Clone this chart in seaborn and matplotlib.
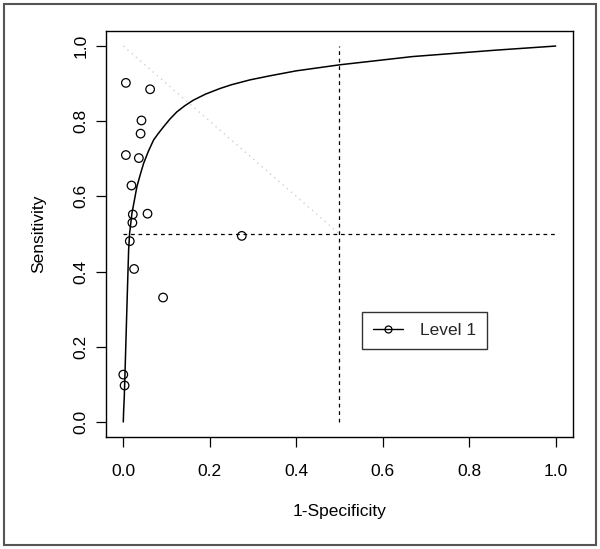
import matplotlib
matplotlib.use("Agg")
import matplotlib.pyplot as plt
from matplotlib.lines import Line2D
from matplotlib.patches import Rectangle
import seaborn as sns
import pandas as pd

# Study points (1-Specificity, Sensitivity)
fpr = [0.006, 0.062, 0.042, 0.040, 0.006, 0.036, 0.019, 0.022, 0.056, 0.021,
       0.015, 0.025, 0.092, 0.274, 0.000, 0.003]
tpr = [0.902, 0.885, 0.802, 0.767, 0.710, 0.702, 0.629, 0.552, 0.554, 0.530,
       0.481, 0.407, 0.331, 0.495, 0.126, 0.097]

# SROC curve
curve_x = [0.0, 0.0008, 0.0023, 0.0046, 0.0084, 0.0123, 0.0146, 0.020, 0.0315,
           0.039, 0.047, 0.058, 0.070, 0.080, 0.093, 0.108, 0.124, 0.142, 0.162,
           0.190, 0.2235, 0.250, 0.293, 0.340, 0.400, 0.500, 0.669, 0.861, 1.0]
curve_y = [0.0, 0.030, 0.067, 0.156, 0.307, 0.457, 0.502, 0.555, 0.626,
           0.657, 0.688, 0.720, 0.750, 0.766, 0.785, 0.806, 0.825, 0.841, 0.856,
           0.872, 0.887, 0.897, 0.910, 0.921, 0.934, 0.950, 0.972, 0.989, 1.0]

# Reference lines
q_line_x = [0.0, 0.5]
q_line_y = [1.0, 0.5]
cut_value = 0.5

x_ticks = [0.0, 0.2, 0.4, 0.6, 0.8, 1.0]
y_ticks = [0.0, 0.2, 0.4, 0.6, 0.8, 1.0]
legend_label = "Level 1"

sns.set_theme(style="white")
plt.rcParams["font.family"] = ["Liberation Sans", "DejaVu Sans"]
plt.rcParams["font.size"] = 12.5

fig = plt.figure(figsize=(6.0, 5.49), dpi=100)
ax = fig.add_axes([106 / 600, 1 - 437 / 549, 467 / 600, 406 / 549])

pts = pd.DataFrame({"x": fpr, "y": tpr})
crv = pd.DataFrame({"x": curve_x, "y": curve_y})

# dotted diagonal (light grey)
ax.plot(q_line_x, q_line_y, linestyle=(0, (1, 3)), color="#cfcfcf", linewidth=1.0, zorder=1)
# dashed cut lines
ax.plot([cut_value, cut_value], [0, 1], linestyle=(0, (3, 3)), color="black", linewidth=0.9, zorder=1)
ax.plot([0, 1], [cut_value, cut_value], linestyle=(0, (3, 3)), color="black", linewidth=0.9, zorder=1)

sns.lineplot(data=crv, x="x", y="y", sort=False, estimator=None, color="black",
             linewidth=1.1, ax=ax, zorder=2)
sns.scatterplot(data=pts, x="x", y="y", marker="o", s=38, facecolor="none",
                edgecolor="black", linewidth=0.9, ax=ax, zorder=3)

ax.set_xlim(-0.04, 1.04)
ax.set_ylim(-0.04, 1.04)
ax.set_xticks(x_ticks)
ax.set_yticks(y_ticks)
ax.set_xticklabels([f"{v:.1f}" for v in x_ticks])
ax.set_yticklabels([f"{v:.1f}" for v in y_ticks], rotation=90, va="center")
ax.tick_params(axis="both", direction="out", length=7, width=0.9, color="black",
               labelsize=12.5, labelcolor="black", left=True, bottom=True)
ax.tick_params(axis="x", pad=12.5)
ax.tick_params(axis="y", pad=5.5)
ax.set_xlabel("1-Specificity", fontsize=12.5, labelpad=18, color="black")
ax.set_ylabel("Sensitivity", fontsize=12.5, labelpad=19.5, color="black")
for sp in ax.spines.values():
    sp.set_color("black")
    sp.set_linewidth(1.0)

handle = Line2D([], [], color="black", linewidth=1.0, marker="o", markersize=5,
                markerfacecolor="none", markeredgecolor="black", markeredgewidth=0.9)
leg = ax.legend([handle], [legend_label], loc="lower left",
                bbox_to_anchor=(0.5475, 0.216), borderaxespad=0, fancybox=False,
                frameon=True, edgecolor="black", fontsize=12.5, handlelength=1.75,
                borderpad=0.65, handletextpad=0.95)
leg.get_frame().set_linewidth(1.0)

fig.patches.append(Rectangle((4 / 600, 4 / 549), 592 / 600, 541 / 549,
                             transform=fig.transFigure, fill=False,
                             edgecolor="#555555", linewidth=1.5))

fig.savefig("out.png", dpi=100)
